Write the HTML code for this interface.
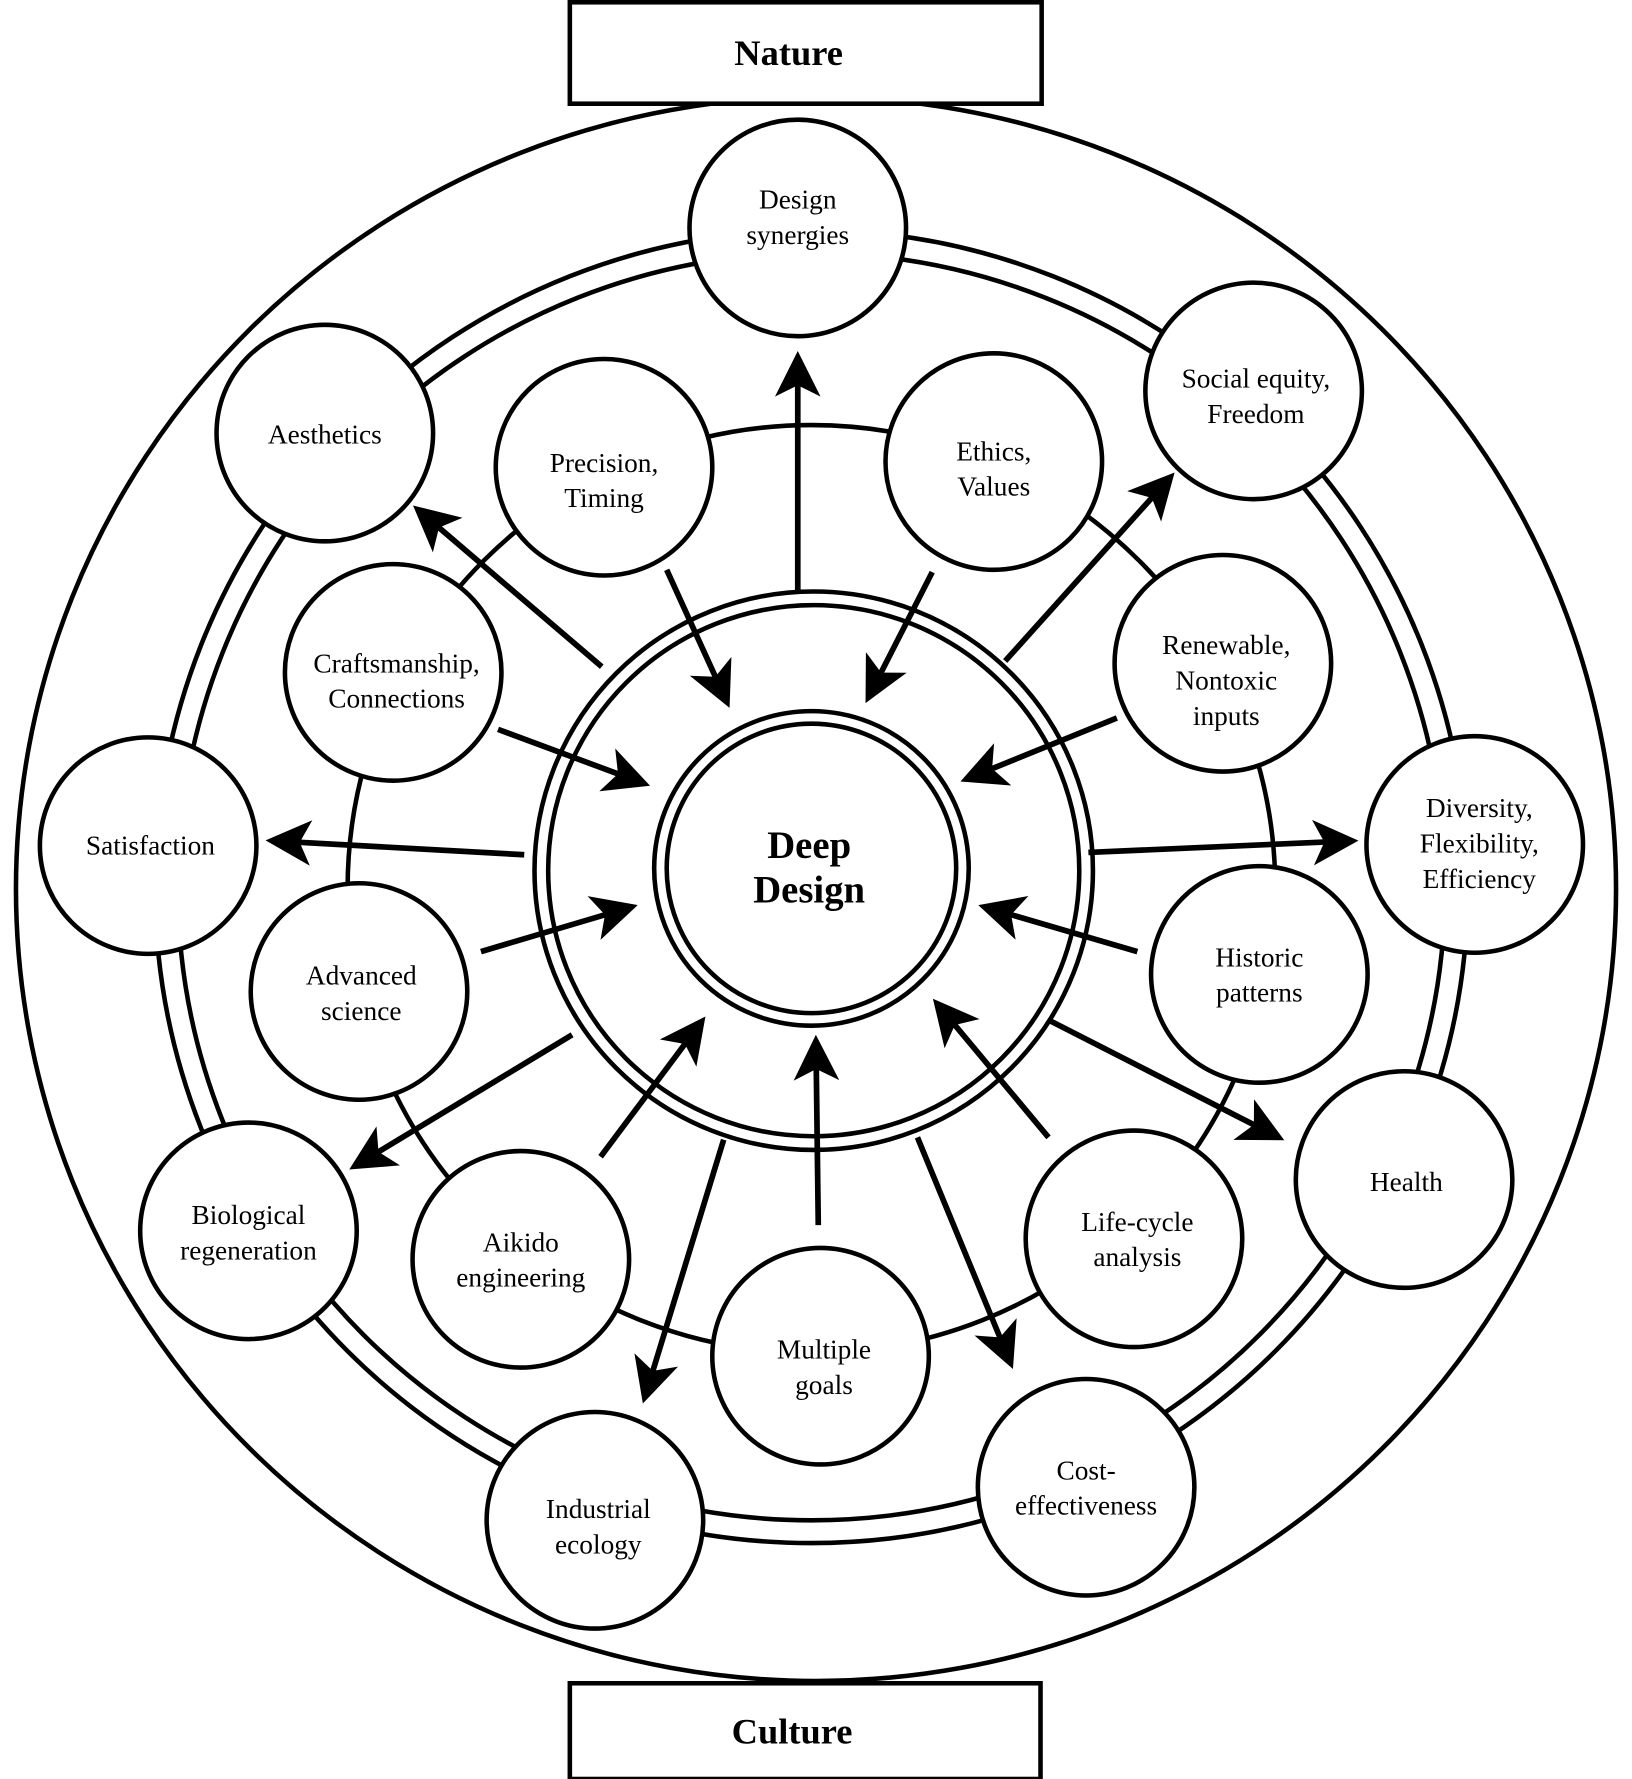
<!DOCTYPE html>
<html><head><meta charset="utf-8"><style>
html,body{margin:0;padding:0;background:#fff}
svg{display:block}
text{font-family:"Liberation Serif",serif;fill:#000;text-anchor:middle}
</style></head><body>
<svg width="1632" height="1779" viewBox="0 0 1432 1561" preserveAspectRatio="none" xmlns="http://www.w3.org/2000/svg">
<defs><marker id="a" markerWidth="8" markerHeight="8" refX="6" refY="4" orient="auto" markerUnits="strokeWidth"><path d="M0,0 L8,4 L0,8 L2,4 Z" fill="#000"/></marker></defs>
<g fill="none" stroke="#000" stroke-width="4">
<ellipse cx="716" cy="780" rx="702" ry="695"/>
<circle cx="712" cy="778" r="556"/>
<circle cx="712" cy="778" r="576"/>
<circle cx="712" cy="780" r="407"/>
<circle cx="714" cy="764" r="245"/>
<circle cx="714" cy="764" r="233"/>
</g>
<g stroke="#000" stroke-width="5" marker-end="url(#a)">
<line x1="700" y1="520" x2="700" y2="318"/>
<line x1="528" y1="585" x2="370" y2="450"/>
<line x1="585" y1="500" x2="636" y2="612"/>
<line x1="818" y1="502" x2="764" y2="608"/>
<line x1="882" y1="580" x2="1024" y2="422"/>
<line x1="980" y1="630" x2="852" y2="682"/>
<line x1="955" y1="748" x2="1182" y2="738"/>
<line x1="998" y1="835" x2="868" y2="797"/>
<line x1="920" y1="895" x2="1118" y2="996"/>
<line x1="920" y1="998" x2="825" y2="884"/>
<line x1="805" y1="998" x2="885" y2="1192"/>
<line x1="718" y1="1075" x2="716" y2="918"/>
<line x1="635" y1="1000" x2="567" y2="1222"/>
<line x1="527" y1="1015" x2="613" y2="900"/>
<line x1="502" y1="908" x2="315" y2="1021"/>
<line x1="422" y1="835" x2="550" y2="797"/>
<line x1="460" y1="750" x2="243" y2="738"/>
<line x1="437" y1="640" x2="561" y2="686"/>
</g>
<g fill="#fff" stroke="#000" stroke-width="4">
<circle cx="712" cy="762" r="138"/>
<circle cx="712" cy="762" r="127"/>
<circle cx="700" cy="200" r="95"/>
<circle cx="1100" cy="343" r="95"/>
<circle cx="1294" cy="741" r="95"/>
<circle cx="1232" cy="1035" r="95"/>
<circle cx="953" cy="1305" r="95"/>
<circle cx="522" cy="1334" r="95"/>
<circle cx="218" cy="1080" r="95"/>
<circle cx="130" cy="742" r="95"/>
<circle cx="285" cy="380" r="95"/>
<circle cx="530" cy="410" r="95"/>
<circle cx="872" cy="405" r="95"/>
<circle cx="1073" cy="582" r="95"/>
<circle cx="1105" cy="855" r="95"/>
<circle cx="995" cy="1087" r="95"/>
<circle cx="720" cy="1190" r="95"/>
<circle cx="457" cy="1105" r="95"/>
<circle cx="315" cy="870" r="95"/>
<circle cx="345" cy="590" r="95"/>
<rect x="500" y="2" width="414" height="89"/>
<rect x="500" y="1477" width="413" height="84"/>
</g>
<g font-size="24">
<text x="700" y="183">Design</text><text x="700" y="214">synergies</text>
<text x="1102" y="340">Social equity,</text><text x="1102" y="371">Freedom</text>
<text x="1298" y="717">Diversity,</text><text x="1298" y="748">Flexibility,</text><text x="1298" y="779">Efficiency</text>
<text x="1234" y="1045">Health</text>
<text x="953" y="1298">Cost-</text><text x="953" y="1329">effectiveness</text>
<text x="525" y="1332">Industrial</text><text x="525" y="1363">ecology</text>
<text x="218" y="1074">Biological</text><text x="218" y="1105">regeneration</text>
<text x="132" y="750">Satisfaction</text>
<text x="285" y="389">Aesthetics</text>
<text x="530" y="414">Precision,</text><text x="530" y="445">Timing</text>
<text x="872" y="404">Ethics,</text><text x="872" y="435">Values</text>
<text x="1076" y="574">Renewable,</text><text x="1076" y="605">Nontoxic</text><text x="1076" y="636">inputs</text>
<text x="1105" y="848">Historic</text><text x="1105" y="879">patterns</text>
<text x="998" y="1080">Life-cycle</text><text x="998" y="1111">analysis</text>
<text x="723" y="1192">Multiple</text><text x="723" y="1223">goals</text>
<text x="457" y="1098">Aikido</text><text x="457" y="1129">engineering</text>
<text x="317" y="864">Advanced</text><text x="317" y="895">science</text>
<text x="348" y="590">Craftsmanship,</text><text x="348" y="621">Connections</text>
</g>
<g font-size="34" font-weight="bold">
<text x="710" y="753">Deep</text><text x="710" y="792">Design</text>
<text x="692" y="57" font-size="32">Nature</text>
<text x="695" y="1530" font-size="32">Culture</text>
</g>
</svg>
</body></html>
